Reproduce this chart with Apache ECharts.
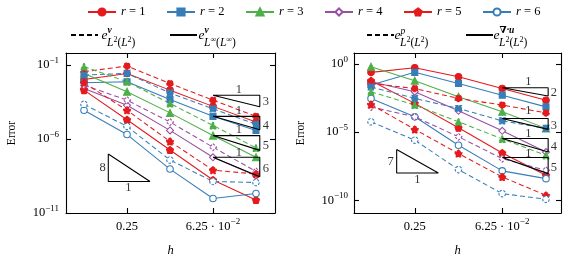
<!DOCTYPE html>
<html><head><meta charset="utf-8">
<script src="https://cdn.jsdelivr.net/npm/echarts@6/dist/echarts.min.js"></script>
<style>html,body{margin:0;padding:0;background:#fff}#c{width:564px;height:257px}</style>
</head><body><div id="c"></div>
<script>
// ---------------- data ----------------
const h = [0.5, 0.25, 0.125, 0.0625, 0.03125];
const rNames = ['r = 1', 'r = 2', 'r = 3', 'r = 4', 'r = 5', 'r = 6'];

// left panel: velocity errors
const velL2 = [            // dashed: e^v_{L2(L2)}
  [3.5e-2, 8.5e-2, 5.6e-3, 4.2e-4, 3.4e-5],
  [2.1e-2, 2.7e-2, 1.3e-3, 1.1e-4, 9.8e-6],
  [7.8e-2, 7.4e-3, 2.5e-4, 8.3e-6, 2.5e-7],
  [4.4e-3, 4.2e-4, 1.4e-5, 2.8e-7, 6.5e-9],
  [6.3e-3, 8.7e-5, 6.8e-7, 7.9e-9, 4.3e-9],
  [2.2e-4, 7.1e-6, 3.8e-8, 1.35e-9, 1.15e-9]
];
const velLinf = [          // solid: e^v_{Linf(Linf)}
  [1.05e-2, 2.7e-2, 2.0e-3, 1.6e-4, 1.4e-5],
  [6.3e-3, 7.4e-3, 4.6e-4, 3.4e-5, 3.8e-6],
  [2.7e-2, 1.55e-3, 5.8e-5, 1.7e-6, 5.8e-8],
  [2.6e-3, 1.9e-4, 3.8e-6, 5.8e-8, 3.3e-9],
  [2.0e-3, 2.0e-5, 1.8e-7, 1.7e-9, 7.6e-11],
  [8.7e-5, 2.0e-6, 9.3e-9, 9.5e-11, 2.1e-10]
];
// right panel
const presL2 = [           // dashed: e^p_{L2(L2)}
  [3.8e-2, 1.6e-2, 3.0e-3, 9.8e-4, 2.6e-4],
  [2.1e-2, 3.0e-3, 5.5e-4, 6.8e-5, 1.9e-5],
  [9.3e-3, 9.8e-4, 5.8e-5, 3.2e-6, 2.0e-7],
  [7.2e-4, 1.35e-4, 4.6e-6, 1.15e-7, 1.6e-8],
  [1.07e-3, 1.6e-5, 2.7e-7, 5.2e-9, 2.3e-10],
  [5.8e-5, 2.6e-6, 1.8e-8, 3.1e-10, 1.2e-10]
];
const divL2 = [            // solid: e^{div u}_{L2(L2)}
  [0.245, 0.54, 0.117, 1.6e-2, 2.2e-3],
  [2.9e-2, 0.245, 3.8e-2, 5.2e-3, 7.2e-4],
  [0.63, 5.9e-2, 4.0e-3, 3.2e-4, 1.9e-5],
  [5.0e-2, 9.3e-3, 3.7e-4, 1.26e-5, 3.5e-7],
  [5.9e-2, 1.3e-3, 2.1e-5, 3.0e-7, 6.9e-9],
  [3.0e-3, 1.35e-4, 1.1e-6, 1.45e-8, 3.9e-9]
];

// tick labels
const xTickH = [0.25, 0.0625];
const xTickText = ['{b|0.25}', '{b|6.25 · 10}{s|−2}'];
const yTickLeft = [1e-11, 1e-6, 1e-1];
const yTickRight = [1e-10, 1e-5, 1e0];

// slope triangles [h0, h1, errTop, errBottom, slope]
const triLeft = [
  [0.0625, 0.0294, 9.1e-4, 1.5e-4, '3'],
  [0.0625, 0.0294, 3.4e-5, 4.2e-6, '4'],
  [0.0625, 0.0294, 1.7e-6, 1.7e-7, '5'],
  [0.0625, 0.0294, 5.8e-8, 2.8e-9, '6']
];
const triRight = [
  [0.0625, 0.0302, 1.8e-2, 4.5e-3, '2'],
  [0.0625, 0.0302, 1.0e-4, 1.6e-5, '3'],
  [0.0625, 0.0302, 3.4e-6, 3.5e-7, '4'],
  [0.0625, 0.0302, 1.4e-7, 9.1e-9, '5']
];
// lower-left triangles [hLeft, hRight, errTop, errBottom, slope]
const triLeftLow = [0.338, 0.1726, 9.8e-8, 1.35e-9, '8'];
const triRightLow = [0.333, 0.172, 5.4e-7, 1.0e-8, '7'];
// triangle labels [h, err, text]
const triLabelsLeft = [
  [0.0412, 2.2e-3, '1'], [0.0412, 8.7e-5, '1'], [0.0412, 4.2e-6, '1'], [0.0412, 1.26e-7, '1'],
  [0.0266, 3.2e-4, '3'], [0.0266, 8.3e-6, '4'], [0.0266, 3.6e-7, '5'], [0.0266, 9.3e-9, '6'],
  [0.370, 1.1e-8, '8'], [0.245, 4.8e-10, '1']
];
const triLabelsRight = [
  [0.0413, 5.0e-2, '1'], [0.0413, 3.5e-4, '1'], [0.0413, 7.9e-6, '1'], [0.0413, 2.7e-7, '1'],
  [0.0276, 7.8e-3, '2'], [0.0276, 3.2e-5, '3'], [0.0276, 8.3e-7, '4'], [0.0276, 2.4e-8, '5'],
  [0.366, 6.6e-8, '7'], [0.240, 3.0e-9, '1']
];

// ---------------- styles ----------------
const F = '"Liberation Serif","DejaVu Serif",serif';
const colors = ['#e41a1c', '#377eb8', '#4daf4a', '#984ea3', '#e41a1c', '#377eb8'];
const pent = 'path://M0,-10L9.511,-3.09L5.878,8.09L-5.878,8.09L-9.511,-3.09Z';
const symbols = ['circle', 'rect', 'triangle', 'diamond', pent, 'circle'];
const hollow = [false, false, false, true, false, true];
const symSize = [6.5, 6, 7, 7, 7, 6.5];
const DASH = [5, 3];

const lx = v => Math.log2(v);
const ly = v => Math.log10(v);
const near = (a, b) => Math.abs(a - b) < 1e-6;

const chart = echarts.init(document.getElementById('c'), null, {renderer: 'canvas', width: 564, height: 257});

const richTick = {
  b: {fontFamily: F, fontSize: 12.5, lineHeight: 18, color: '#000'},
  s: {fontFamily: F, fontSize: 9, lineHeight: 11, verticalAlign: 'top', color: '#000'}
};
const xTicks = xTickH.map(lx);
const fx = v => { for (let i = 0; i < xTicks.length; i++) if (near(v, xTicks[i])) return xTickText[i]; return ''; };
const fy = v => { const e = Math.round(v); return '{b|10}{s|' + (e < 0 ? '−' + (-e) : e) + '}'; };

const frame = {color: '#000', width: 1.1};
function xAxes(grid, min, max) {
  const base = {gridIndex: grid, type: 'value', inverse: true, min, max,
    axisLine: {onZero: false, lineStyle: frame},
    axisTick: {inside: true, length: 5, customValues: xTicks, lineStyle: frame},
    splitLine: {show: false}};
  return [
    Object.assign({}, base, {position: 'bottom',
      axisLabel: {customValues: xTicks, margin: 4.5, formatter: fx, rich: richTick},
      name: 'h', nameLocation: 'middle', nameGap: 31,
      nameTextStyle: {fontFamily: F, fontSize: 12.5, fontStyle: 'italic', color: '#000'}}),
    Object.assign({}, base, {position: 'top', axisLabel: {show: false}})
  ];
}
function yAxes(grid, min, max, ticksArr, margin, nameGap) {
  const t = ticksArr.map(v => Math.round(ly(v)));
  const base = {gridIndex: grid, type: 'value', min, max,
    axisLine: {onZero: false, lineStyle: frame},
    axisTick: {inside: true, length: 5, customValues: t, lineStyle: frame},
    splitLine: {show: false}};
  return [
    Object.assign({}, base, {position: 'left',
      axisLabel: {customValues: t, margin, formatter: fy, rich: richTick},
      name: 'Error', nameLocation: 'middle', nameGap,
      nameTextStyle: {fontFamily: F, fontSize: 11.5, color: '#000'}}),
    Object.assign({}, base, {position: 'right', axisLabel: {show: false}})
  ];
}

const series = [];
function dataSeries(name, vals, axis, k, dashed) {
  return {type: 'line', name, xAxisIndex: axis, yAxisIndex: axis,
    data: vals.map((v, i) => [lx(h[i]), ly(v)]),
    symbol: symbols[k], symbolSize: symSize[k], showSymbol: true,
    lineStyle: {color: colors[k], width: 1.05, type: dashed ? DASH : 'solid'},
    itemStyle: {color: hollow[k] ? '#fff' : colors[k], borderColor: colors[k], borderWidth: 1.1,
      borderType: dashed ? [2.5, 1.5] : 'solid'},
    emphasis: {disabled: true}, silent: true, z: 2};
}
for (let k = 0; k < 6; k++) {
  series.push(dataSeries(rNames[k], velLinf[k], 0, k, false));
  series.push(dataSeries(rNames[k], divL2[k], 2, k, false));
}
for (let k = 0; k < 6; k++) {
  series.push(dataSeries(rNames[k], velL2[k], 0, k, true));
  series.push(dataSeries(rNames[k], presL2[k], 2, k, true));
}
// legend-only series (black line styles)
const legendLines = [['vL2', true], ['vLinf', false], ['pL2', true], ['divL2', false]];
legendLines.forEach(([n, d]) => series.push({type: 'line', name: n, xAxisIndex: 0, yAxisIndex: 0, data: [],
  symbol: 'none', lineStyle: {color: '#000', width: 1.3, type: d ? DASH : 'solid'}, itemStyle: {color: '#000'}}));

function triSeries(tris, axis) {
  tris.forEach(t => series.push({type: 'line', xAxisIndex: axis, yAxisIndex: axis, symbol: 'none', silent: true, z: 5,
    lineStyle: {color: '#000', width: 1.1},
    data: [[lx(t[0]), ly(t[2])], [lx(t[1]), ly(t[2])], [lx(t[1]), ly(t[3])], [lx(t[0]), ly(t[2])]]}));
}
function triLowSeries(t, axis) {
  series.push({type: 'line', xAxisIndex: axis, yAxisIndex: axis, symbol: 'none', silent: true, z: 5,
    lineStyle: {color: '#000', width: 1.1},
    data: [[lx(t[0]), ly(t[2])], [lx(t[0]), ly(t[3])], [lx(t[1]), ly(t[3])], [lx(t[0]), ly(t[2])]]});
}
function labelSeries(lbls, axis) {
  series.push({type: 'scatter', xAxisIndex: axis, yAxisIndex: axis, symbolSize: 1, silent: true, z: 6,
    itemStyle: {color: 'rgba(0,0,0,0)'},
    label: {show: true, position: 'inside', formatter: p => p.name, fontFamily: F, fontSize: 12.5, color: '#000'},
    data: lbls.map(l => ({name: l[2], value: [lx(l[0]), ly(l[1])]}))});
}
triSeries(triLeft, 0); triSeries(triRight, 2);
triLowSeries(triLeftLow, 0); triLowSeries(triRightLow, 2);
labelSeries(triLabelsLeft, 0); labelSeries(triLabelsRight, 2);

const legTxt = {fontFamily: F, fontSize: 12.5, color: '#000', lineHeight: 14,
  rich: {i: {fontFamily: F, fontSize: 12.5, fontStyle: 'italic', color: '#000'}}};
const legends = rNames.map((n, k) => ({left: 87 + 79 * k, top: 5, padding: 0, itemWidth: 28, itemHeight: 9,
  selectedMode: false, data: [n], textStyle: legTxt, formatter: nm => '{i|r} = ' + nm.split('= ')[1]}));
[[70, 'vL2'], [169, 'vLinf'], [366, 'pL2'], [465, 'divL2']].forEach(([l, n]) => legends.push({
  left: l, top: 28, padding: 0, itemWidth: 27, itemHeight: 9, selectedMode: false, data: [n],
  itemStyle: {color: 'rgba(0,0,0,0)', borderColor: 'rgba(0,0,0,0)', borderWidth: 0, opacity: 0},
  textStyle: legTxt, formatter: () => ' '}));

// math labels of the norm legend
function mathText(x, sup, supBold, sub) {
  const subRich = {i: {fontFamily: F, fontSize: 11.5, fontStyle: 'italic', lineHeight: 13},
    n: {fontFamily: F, fontSize: 11.5, lineHeight: 13},
    s: {fontFamily: F, fontSize: 8, lineHeight: 9, verticalAlign: 'top'}};
  return [
    {type: 'text', x: x, y: 35.5, style: {text: 'e', fontFamily: F, fontSize: 13.5, fontStyle: 'italic', fill: '#000', verticalAlign: 'middle'}},
    {type: 'text', x: x + 6, y: 31, style: {text: sup, fontFamily: F, fontSize: 9.5, fontStyle: 'italic', fontWeight: supBold ? 'bold' : 'normal', fill: '#000', verticalAlign: 'middle'}},
    {type: 'text', x: x + 5.5, y: 42.5, style: {text: sub, rich: subRich, fontFamily: F, fontSize: 11.5, fill: '#000', verticalAlign: 'middle'}}
  ];
}
const sub2 = '{i|L}{s|2}{n|(}{i|L}{s|2}{n|)}';
const subInf = '{i|L}{s|∞}{n|(}{i|L}{s|∞}{n|)}';
const graphic = [].concat(
  mathText(101.5, 'v', true, sub2),
  mathText(198.5, 'v', true, subInf),
  mathText(394.5, 'p', false, sub2),
  mathText(493.5, '∇·u', true, sub2)
);

chart.setOption({
  animation: false,
  backgroundColor: '#fff',
  textStyle: {fontFamily: F},
  grid: [
    {left: 66, top: 53, width: 209, height: 160, containLabel: false, outerBoundsMode: 'none'},
    {left: 354, top: 53, width: 207, height: 160, containLabel: false, outerBoundsMode: 'none'}
  ],
  xAxis: [].concat(xAxes(0, -5.442, -0.581), xAxes(1, -5.343, -0.611)),
  yAxis: [].concat(yAxes(0, -11, -0.19, yTickLeft, 7, 48), yAxes(1, -10.93, 0.81, yTickRight, 6, 47.5)),
  legend: legends,
  graphic: graphic,
  series: series
});
</script></body></html>
